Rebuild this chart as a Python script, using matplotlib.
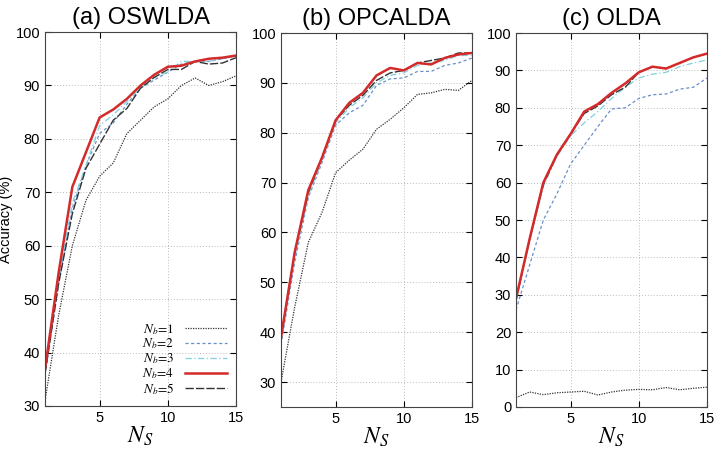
import matplotlib
matplotlib.use("Agg")
import matplotlib.pyplot as plt

plt.rcParams['font.family'] = ['Liberation Sans', 'DejaVu Sans']
plt.rcParams['mathtext.fontset'] = 'stix'

ns = list(range(1, 16))
titles = ['(a) OSWLDA', '(b) OPCALDA', '(c) OLDA']
ylims = [(30, 100), (25, 100), (0, 100)]
yticks = [list(range(30, 101, 10)), list(range(30, 101, 10)), list(range(0, 101, 10))]

# accuracy (%) per panel, per Nb
acc_a = {
    1: [31, 47, 60, 68.5, 73, 75.5, 81, 83.5, 86, 87.5, 90, 91.4, 90, 90.7, 91.8],
    2: [36, 53, 67, 75, 81, 83, 86.5, 89.5, 91, 92.5, 94, 94.5, 94.5, 95, 95.5],
    3: [36, 54, 68, 75, 82.5, 84.5, 87, 89.5, 91.5, 92.5, 94.5, 94.5, 94.5, 95, 95.5],
    4: [37, 55, 71, 77.5, 84, 85.5, 87.5, 90, 92, 93.5, 93.7, 94.5, 95, 95.2, 95.6],
    5: [36, 53, 66, 74.5, 79, 83.5, 85.7, 89.5, 91.5, 93, 93, 94.5, 94, 94.2, 95.2],
}
acc_b = {
    1: [30, 45, 58, 64, 72, 74.5, 76.7, 80.7, 82.7, 85, 87.7, 88, 88.7, 88.5, 90.5],
    2: [37.5, 54, 67, 74, 81.5, 84, 85.5, 89.5, 90.8, 91, 92.3, 92.3, 93.5, 94, 95],
    3: [38, 55, 67.5, 74.5, 82, 85, 87, 90, 91.5, 92, 93.5, 94, 94.5, 95.5, 95.5],
    4: [39, 56, 68.5, 75, 82.5, 86, 88, 91.5, 93, 92.5, 94, 93.7, 95, 95.7, 96],
    5: [39, 56, 68, 75, 82.5, 85.5, 87.5, 90.5, 92, 92.5, 94, 94.5, 95, 96, 96],
}
acc_c = {
    1: [2.5, 4, 3.3, 3.8, 4, 4.2, 3.2, 4, 4.5, 4.7, 4.6, 5.2, 4.6, 5, 5.3],
    2: [26, 38, 50, 57, 65, 70, 75, 79.7, 80, 82.5, 83.5, 83.7, 85, 85.5, 88],
    3: [29, 44.5, 59, 67, 72.5, 76, 79, 82.5, 85.5, 88, 89, 89.5, 91, 92, 92.8],
    4: [29, 45, 60, 67.5, 73, 79, 81, 84, 86.5, 89.5, 91, 90.5, 92, 93.5, 94.5],
    5: [28.5, 45, 59.5, 67.5, 73, 78.5, 80.5, 83.5, 85.5, 89.5, 91, 90.5, 92, 93.5, 94.5],
}
panels = [acc_a, acc_b, acc_c]

styles = {
    1: dict(color='#333333', ls=(0, (1, 1)), lw=0.9),
    2: dict(color='#6a8fc8', ls=(0, (2.5, 2)), lw=0.9),
    3: dict(color='#7fd0e0', ls=(0, (5, 2, 1, 2)), lw=0.9),
    4: dict(color='#d42a2a', ls='-', lw=1.8),
    5: dict(color='#333333', ls=(0, (6, 1.5)), lw=1.0),
}

fig = plt.figure(figsize=(7.16, 4.5), dpi=100)
lefts = [0.0629, 0.3925, 0.7207]
bottoms = [0.0978, 0.0956, 0.0956]

for i, data in enumerate(panels):
    ax = fig.add_axes([lefts[i], bottoms[i], 0.2668, 0.831])
    for nb in [1, 2, 3, 5, 4]:
        ax.plot(ns, data[nb], label=r'$N_b$=%d' % nb, **styles[nb])
    ax.set_xlim(1, 15)
    ax.set_ylim(*ylims[i])
    ax.set_xticks([5, 10, 15])
    ax.set_yticks(yticks[i])
    ax.grid(True, ls=(0, (1, 2)), color='#bbbbbb', lw=0.7)
    ax.tick_params(direction='in', top=True, right=True, labelsize=10.5, length=4)
    for s in ax.spines.values():
        s.set_color('#444444')
    ax.set_title(titles[i], fontsize=17, pad=6)
    ax.set_xlabel('$N_S$', fontsize=17, labelpad=0)
    if i == 0:
        ax.set_ylabel('Accuracy (%)', fontsize=10.5, labelpad=2)
        h, l = ax.get_legend_handles_labels()
        order = sorted(range(len(l)), key=lambda k: l[k])
        ax.legend([h[k] for k in order], [l[k] for k in order], loc='lower right',
                  frameon=False, markerfirst=False, handlelength=3.2,
                  labelspacing=0.0, borderaxespad=0.3,
                  prop={'family': 'STIXGeneral', 'size': 9.5})

fig.savefig('out.png', dpi=100)
